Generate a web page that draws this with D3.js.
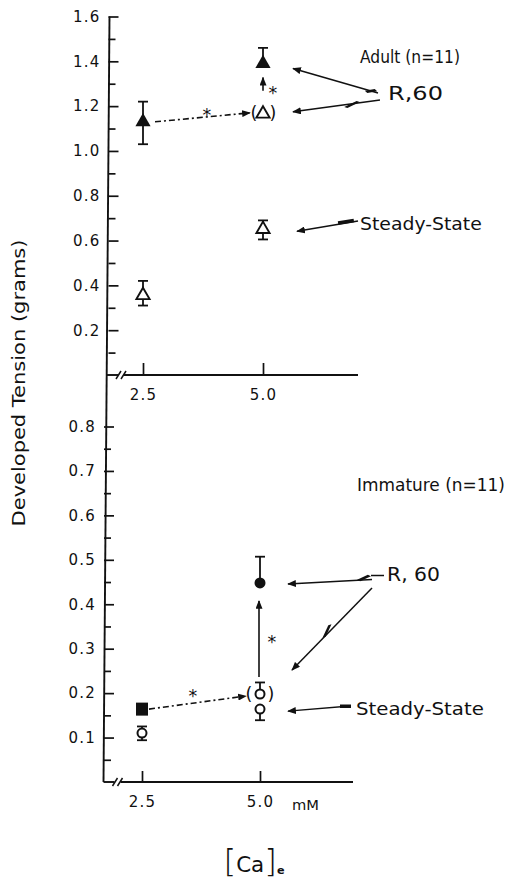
<!DOCTYPE html>
<html>
<head>
<meta charset="utf-8">
<script src="https://cdn.jsdelivr.net/npm/d3@7"></script>
<style>
body{margin:0;background:#fff}
svg{display:block}
text{font-family:"DejaVu Sans",sans-serif;fill:#111}
</style>
</head>
<body>
<div id="chart"></div>
<script>
// [Ca]e doses, mM
const doses = [2.5, 5.0];
const doseLabels = ["2.5", "5.0"];

// Adult (top panel), grams
const adultTicks = [0.2, 0.4, 0.6, 0.8, 1.0, 1.2, 1.4, 1.6];
const adultMinor = [0.1, 0.3, 0.5, 0.7, 0.9, 1.1, 1.3, 1.5];
const adultR60 = [1.13, 1.39];
const adultR60Hi = [1.22, 1.46];
const adultR60Lo = [1.03, null];
const adultSS = [0.36, 0.655];
const adultSSHi = [0.42, 0.69];
const adultSSLo = [0.31, 0.605];
const adultPre = 1.17; // (open) at 5.0 before R,60

// Immature (bottom panel), grams
const immTicks = [0.1, 0.2, 0.3, 0.4, 0.5, 0.6, 0.7, 0.8];
const immMinor = [0.05, 0.15, 0.25, 0.35, 0.45, 0.55, 0.65, 0.75];
const immR60 = [0.164, 0.448];
const immR60Hi = [null, 0.507];
const immSS = [0.110, 0.164];
const immSSHi = [0.125, null];
const immSSLo = [0.094, 0.139];
const immPre = 0.198;
const immPreHi = 0.224;

const W = 506, H = 881;
const svg = d3.select("#chart").append("svg").attr("width", W).attr("height", H);

svg.append("defs").append("marker")
  .attr("id", "ah").attr("viewBox", "0 0 10 8")
  .attr("refX", 9).attr("refY", 4)
  .attr("markerWidth", 9).attr("markerHeight", 7)
  .attr("markerUnits", "userSpaceOnUse")
  .attr("orient", "auto")
  .append("path").attr("d", "M0,0L10,4L0,8Z").attr("fill", "#111");

const yA = d3.scaleLinear().domain([0, 1.6]).range([375, 16.5]);
const yI = d3.scaleLinear().domain([0, 0.8]).range([782, 426.5]);
const xA = d3.scaleLinear().domain([2.5, 5]).range([143, 263]);
const xI = d3.scaleLinear().domain([2.5, 5]).range([142, 260]);

const ink = "#111";
function line(g, x1, y1, x2, y2, w, dash, arrow) {
  const l = g.append("line").attr("x1", x1).attr("y1", y1).attr("x2", x2).attr("y2", y2)
    .attr("stroke", ink).attr("stroke-width", w || 1.6);
  if (dash) l.attr("stroke-dasharray", dash);
  if (arrow) l.attr("marker-end", "url(#ah)");
  return l;
}
// text stretched sideways to the hand lettering of the original
function label(t, x, y, size, len, anchor) {
  const e = svg.append("text").attr("font-size", size)
    .attr("text-anchor", anchor || "start").text(t);
  let sx = 1.03;
  if (len) sx = len / e.node().getComputedTextLength();
  e.attr("transform", `translate(${x},${y}) scale(${sx},1)`);
  return e;
}
// little lightning-style break on a pointer line
function bolt(x, y, ang, len) {
  len = len || 16;
  svg.append("path")
    .attr("d", `M${-len/2},1.5L${len/2 - 3},-3L${len/2},-1.5L${-len/2 + 3},3Z`)
    .attr("transform", `translate(${x},${y}) rotate(${ang})`)
    .attr("fill", ink);
}
function errBar(g, x, yc, yHi, yLo) {
  if (yHi != null) { line(g, x, yc, x, yHi, 1.8); line(g, x - 5, yHi, x + 5, yHi, 1.8); }
  if (yLo != null) { line(g, x, yc, x, yLo, 1.8); line(g, x - 5, yLo, x + 5, yLo, 1.8); }
}

// ---- y axis (one hand-drawn line through both panels)
line(svg, 109.5, 16.5, 103.5, 782, 1.9);

const gA = svg.append("g").attr("transform", "translate(108.5,0)");
gA.call(d3.axisLeft(yA).tickValues(adultTicks).tickSize(-10).tickPadding(8).tickFormat(d3.format(".1f")));
const gAm = svg.append("g").attr("transform", "translate(108.5,0)");
gAm.call(d3.axisLeft(yA).tickValues(adultMinor).tickSize(-7).tickFormat(""));
const gI = svg.append("g").attr("transform", "translate(104,0)");
gI.call(d3.axisLeft(yI).tickValues(immTicks).tickSize(-10).tickPadding(8).tickFormat(d3.format(".1f")));
const gIm = svg.append("g").attr("transform", "translate(104,0)");
gIm.call(d3.axisLeft(yI).tickValues(immMinor).tickSize(-7).tickFormat(""));

// ---- x axes with break marks
const gxA = svg.append("g").attr("transform", "translate(0,375)");
gxA.call(d3.axisBottom(xA).tickValues(doses).tickSize(-12).tickPadding(14).tickFormat((d, i) => doseLabels[i]));
const gxI = svg.append("g").attr("transform", "translate(0,782)");
gxI.call(d3.axisBottom(xI).tickValues(doses).tickSize(-11).tickPadding(14).tickFormat((d, i) => doseLabels[i]));
svg.selectAll(".domain").remove();
svg.selectAll(".tick line").attr("stroke", ink).attr("stroke-width", 1.7);
svg.selectAll(".tick text").attr("font-size", 15).attr("fill", ink)
  .attr("font-family", "DejaVu Sans, sans-serif").style("letter-spacing", "1.2px");

function xLine(y, x0, x1) {
  line(svg, x0, y, x0 + 11, y, 1.9);
  line(svg, x0 + 17, y, x1, y, 1.9);
  line(svg, x0 + 9, y + 4, x0 + 14, y - 4, 1.5);
  line(svg, x0 + 14, y + 4, x0 + 19, y - 4, 1.5);
}
xLine(375, 107, 358);
xLine(782, 103.5, 353);
label("mM", 292, 810, 14, 27);

// ---- adult marks
const pA = svg.append("g");
const tri = d3.symbol().type(d3.symbolTriangle);
doses.forEach((d, i) => {
  errBar(pA, xA(d), yA(adultSS[i]), yA(adultSSHi[i]), yA(adultSSLo[i]));
  pA.append("path").attr("d", tri.size(75)()).attr("transform", `translate(${xA(d)},${yA(adultSS[i]) + 1})`)
    .attr("fill", "#fff").attr("stroke", ink).attr("stroke-width", 1.9);
  errBar(pA, xA(d), yA(adultR60[i]), adultR60Hi[i] != null ? yA(adultR60Hi[i]) : null,
    adultR60Lo[i] != null ? yA(adultR60Lo[i]) : null);
  pA.append("path").attr("d", tri.size(100)()).attr("transform", `translate(${xA(d)},${yA(adultR60[i])})`)
    .attr("fill", ink);
});
pA.append("path").attr("d", tri.size(75)()).attr("transform", `translate(${xA(5)},${yA(adultPre) + 1})`)
  .attr("fill", "#fff").attr("stroke", ink).attr("stroke-width", 1.9);
label("(", xA(5) - 9, yA(adultPre) + 6, 17, null, "middle");
label(")", xA(5) + 10, yA(adultPre) + 6, 17, null, "middle");
line(pA, xA(2.5) + 12, yA(adultR60[0]), xA(5) - 13, yA(adultPre), 1.6, "6,3,2,3", true);
line(pA, xA(5), yA(adultPre) - 22, xA(5), yA(adultR60[1]) + 14, 1.6, null, true);
label("*", (xA(2.5) + xA(5)) / 2 + 4, yA(adultPre) + 8, 17, null, "middle");
label("*", xA(5) + 10, yA(adultPre) - 14, 17, null, "middle");

// adult annotations
label("Adult (n=11)", 360, 63, 18, 100);
label("R,60", 388, 100, 19, 55);
line(svg, 378, 93, xA(5) + 30, yA(adultR60[1]) + 5, 1.5, null, true);
bolt(371, 91, 16, 12);
line(svg, 380, 100, xA(5) + 30, yA(adultPre) - 1, 1.5, null, true);
bolt(352, 104.5, -7, 16);
label("Steady-State", 360, 229.5, 18, 122);
line(svg, 358, 221, xA(5) + 34, yA(adultSS[1]) + 3, 1.5, null, true);
svg.append("rect").attr("x", 338).attr("y", 220).attr("width", 16).attr("height", 3.5)
  .attr("transform", "rotate(-9,346,222)").attr("fill", ink);

// ---- immature marks
const pI = svg.append("g");
errBar(pI, xI(2.5), yI(immSS[0]), yI(immSSHi[0]), yI(immSSLo[0]));
errBar(pI, xI(5), yI(immSS[1]), null, yI(immSSLo[1]));
doses.forEach((d, i) => {
  pI.append("circle").attr("cx", xI(d)).attr("cy", yI(immSS[i])).attr("r", 4.5)
    .attr("fill", "#fff").attr("stroke", ink).attr("stroke-width", 2);
});
pI.append("rect").attr("x", xI(2.5) - 6).attr("y", yI(immR60[0]) - 6.5).attr("width", 12).attr("height", 13)
  .attr("fill", ink);
errBar(pI, xI(5), yI(immR60[1]), yI(immR60Hi[1]), null);
pI.append("circle").attr("cx", xI(5)).attr("cy", yI(immR60[1])).attr("r", 5.5).attr("fill", ink);
errBar(pI, xI(5), yI(immPre), yI(immPreHi), null);
pI.append("circle").attr("cx", xI(5)).attr("cy", yI(immPre)).attr("r", 4.5)
  .attr("fill", "#fff").attr("stroke", ink).attr("stroke-width", 2);
label("(", xI(5) - 11, yI(immPre) + 6, 17, null, "middle");
label(")", xI(5) + 11, yI(immPre) + 6, 17, null, "middle");
line(pI, xI(2.5) + 7, yI(immR60[0]), xI(5) - 14, yI(immPre) + 2, 1.6, "6,3,2,3", true);
line(pI, xI(5) - 1, yI(immPre) - 17, xI(5) - 1, yI(immR60[1]) + 18, 1.6, null, true);
label("*", (xI(2.5) + xI(5)) / 2 - 8, yI(immPre) + 8, 17, null, "middle");
label("*", xI(5) + 12, yI(immPre) - 46, 17, null, "middle");

// immature annotations
label("Immature (n=11)", 357, 491, 18, 148);
label("R, 60", 387, 581, 19, 53);
line(svg, 372, 579.5, xI(5) + 28, yI(immR60[1]) + 1, 1.5, null, true);
bolt(364, 578, -3, 14);
line(svg, 371, 575.5, 384, 575.5, 1.5);
line(svg, 372, 588, xI(5) + 32, yI(immPre) - 24, 1.5, null, true);
bolt(327, 631, 134, 16);
label("Steady-State", 356, 714.5, 18, 128);
line(svg, 350, 706, xI(5) + 28, yI(immSS[1]) + 2, 1.5, null, true);
svg.append("rect").attr("x", 340).attr("y", 704.5).attr("width", 11).attr("height", 3.5).attr("fill", ink);

// ---- titles
const yt = svg.append("text").attr("text-anchor", "middle").attr("font-size", 18)
  .text("Developed Tension (grams)");
const ytw = yt.node().getComputedTextLength();
yt.attr("transform", `translate(25,383) rotate(-90) scale(${287 / ytw},1)`);

const ca = svg.append("text").attr("transform", "translate(254,872) scale(1.02,1)").attr("text-anchor", "middle");
ca.append("tspan").attr("font-size", 32).attr("font-weight", 300).text("[");
ca.append("tspan").attr("font-size", 21).text("Ca");
ca.append("tspan").attr("font-size", 32).attr("font-weight", 300).text("]");
ca.append("tspan").attr("font-size", 11).attr("font-weight", "bold").attr("dy", 2).text("e");
</script>
</body>
</html>
